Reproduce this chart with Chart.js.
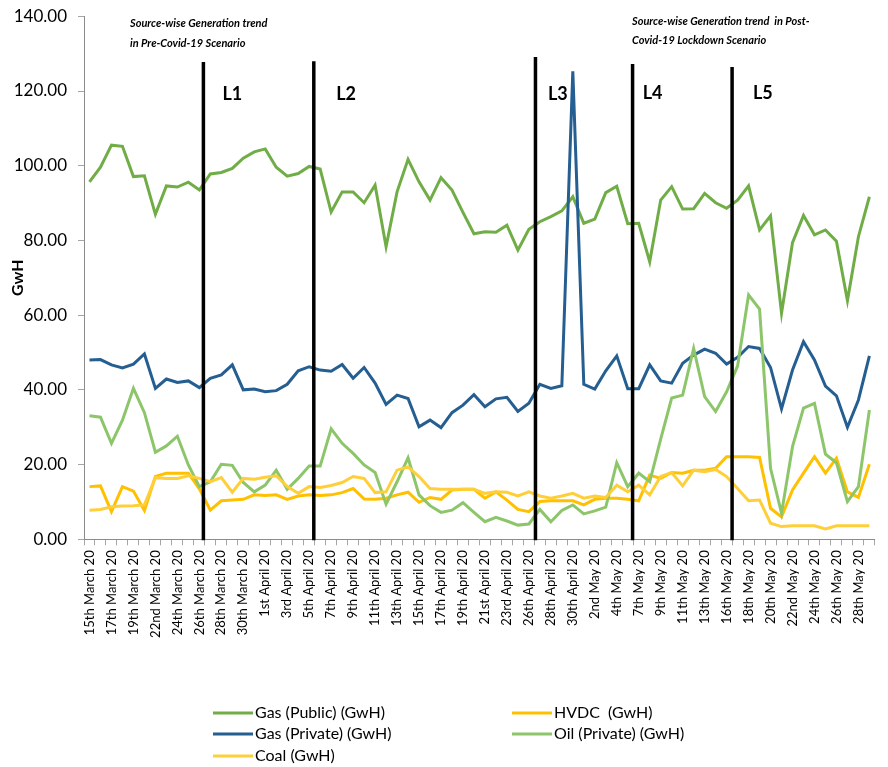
<!DOCTYPE html>
<html>
<head>
<meta charset="utf-8">
<script src="https://cdn.jsdelivr.net/npm/chart.js@4.4.1/dist/chart.umd.min.js"></script>
<style>
  html, body { margin: 0; padding: 0; background: #fff; overflow: hidden; }
  #wrap { width: 890px; height: 767px; }
</style>
</head>
<body>
<div id="wrap"><canvas id="c" width="890" height="767"></canvas></div>
<script>
// Daily dates (a few days have no record)
const dates = [
  '15th March 20','16th March 20','17th March 20','18th March 20','19th March 20','20th March 20',
  '22nd March 20','23rd March 20','24th March 20','25th March 20','26th March 20','27th March 20',
  '28th March 20','29th March 20','30th March 20','31st March 20',
  '1st April 20','2nd April 20','3rd April 20','4th April 20','5th April 20','6th April 20',
  '7th April 20','8th April 20','9th April 20','10th April 20','11th April 20','12th April 20',
  '13th April 20','14th April 20','15th April 20','16th April 20','17th April 20','18th April 20',
  '19th April 20','20th April 20','21st April 20','22nd April 20','23rd April 20','24th April 20',
  '26th April 20','27th April 20','28th April 20','29th April 20','30th April 20',
  '1st May 20','2nd May 20','3rd May 20','4th May 20','5th May 20',
  '7th May 20','8th May 20','9th May 20','10th May 20','11th May 20','12th May 20','13th May 20','14th May 20',
  '16th May 20','17th May 20','18th May 20','19th May 20','20th May 20','21st May 20','22nd May 20',
  '23rd May 20','24th May 20','25th May 20','26th May 20','27th May 20','28th May 20','29th May 20'
];

// Generation by source (GwH)
const gasPublic = [
  95.7, 99.6, 105.5, 105.2, 97.1, 97.3, 87.0, 94.6, 94.3, 95.6,
  93.5, 97.8, 98.2, 99.3, 102.0, 103.7, 104.5, 99.6, 97.2, 97.9,
  99.8, 99.1, 87.6, 93.0, 93.0, 90.1, 94.8, 78.3, 93.0, 101.7,
  95.7, 90.8, 96.8, 93.5, 87.5, 81.8, 82.3, 82.2, 84.1, 77.4,
  83.0, 85.0, 86.4, 87.9, 91.7, 84.6, 85.7, 92.8, 94.5, 84.5,
  84.6, 74.3, 90.8, 94.4, 88.4, 88.5, 92.6, 90.1, 88.6, 90.8,
  94.6, 82.8, 86.6, 60.5, 79.4, 86.7, 81.5, 82.8, 79.8, 63.9,
  81.0, 91.7
];
const hvdc = [
  14.1, 14.3, 7.4, 14.1, 12.9, 7.7, 16.8, 17.7, 17.7, 17.7,
  13.5, 7.8, 10.3, 10.5, 10.7, 11.9, 11.7, 11.9, 10.7, 11.6,
  11.9, 11.7, 11.9, 12.5, 13.6, 10.8, 10.7, 11.0, 11.9, 12.6,
  9.9, 11.2, 10.7, 13.2, 13.4, 13.4, 11.0, 12.7, 10.5, 8.0,
  7.4, 10.1, 10.3, 10.3, 10.3, 9.2, 10.7, 11.0, 11.0, 10.7,
  10.3, 17.2, 16.3, 17.9, 17.7, 18.5, 18.5, 19.0, 22.1, 22.1,
  22.1, 21.9, 8.3, 6.0, 13.2, 17.7, 22.1, 17.7, 21.7, 12.7,
  11.2, 20.1
];
const gasPrivate = [
  48.0, 48.1, 46.7, 45.9, 46.9, 49.6, 40.4, 42.9, 42.0, 42.4,
  40.6, 43.1, 44.0, 46.7, 40.0, 40.2, 39.5, 39.8, 41.5, 45.1,
  46.2, 45.3, 45.0, 46.8, 43.1, 46.0, 41.8, 36.1, 38.6, 37.7,
  30.1, 31.9, 29.9, 33.9, 35.9, 38.7, 35.5, 37.6, 38.0, 34.2,
  36.4, 41.5, 40.4, 41.1, 125.3, 41.5, 40.2, 45.1, 49.1, 40.3,
  40.3, 46.7, 42.4, 41.8, 47.1, 49.3, 50.9, 49.8, 46.9, 48.7,
  51.6, 51.1, 46.0, 34.9, 45.3, 52.9, 48.0, 41.0, 38.4, 30.0,
  37.3, 49.1
];
const oilPrivate = [
  33.1, 32.7, 25.7, 31.9, 40.4, 33.9, 23.3, 25.0, 27.6, 19.9,
  14.1, 15.4, 20.1, 19.8, 15.2, 12.7, 14.5, 18.5, 13.4, 16.3,
  19.6, 19.6, 29.6, 25.7, 23.0, 19.9, 17.9, 9.4, 15.4, 21.8,
  11.9, 9.0, 7.2, 7.8, 9.8, 7.2, 4.7, 5.9, 4.9, 3.8,
  4.1, 8.0, 4.7, 7.7, 9.2, 6.8, 7.6, 8.6, 20.5, 14.1,
  17.7, 15.4, 26.8, 37.8, 38.6, 51.1, 38.2, 34.2, 39.5, 46.4,
  65.4, 61.6, 19.0, 7.0, 24.8, 35.1, 36.4, 22.8, 20.5, 10.1,
  14.1, 34.6
];
const coal = [
  7.8, 8.0, 8.7, 8.9, 9.0, 9.2, 16.5, 16.3, 16.3, 17.0,
  16.3, 15.4, 16.5, 12.6, 16.3, 16.1, 16.6, 17.0, 14.1, 12.3,
  14.1, 13.9, 14.4, 15.2, 16.8, 16.3, 12.5, 12.7, 18.5, 19.4,
  16.8, 13.6, 13.4, 13.4, 13.4, 13.4, 12.3, 12.7, 12.6, 11.6,
  12.7, 11.6, 11.0, 11.6, 12.3, 11.0, 11.6, 11.2, 14.5, 12.7,
  14.5, 11.9, 16.8, 17.9, 14.3, 18.5, 18.1, 18.7, 16.8, 13.6,
  10.3, 10.5, 4.3, 3.4, 3.6, 3.6, 3.6, 2.8, 3.6, 3.6,
  3.6, 3.6
];

const seriesNames = ['Gas (Public) (GwH)', 'HVDC  (GwH)', 'Gas (Private) (GwH)', 'Oil (Private) (GwH)', 'Coal (GwH)'];
const yTicks = [0, 20, 40, 60, 80, 100, 120, 140];

// Lockdown phases
const phaseNames = ['L1', 'L2', 'L3', 'L4', 'L5'];

const FONT = 'Lato, "DejaVu Sans", sans-serif';

// Vertical lockdown boundaries with their labels, placed in scale units
const phaseMarkers = {
  id: 'phaseMarkers',
  afterDatasetsDraw(chart, args, opts) {
    const { ctx } = chart;
    const xs = chart.scales.x, ys = chart.scales.y;
    ctx.save();
    opts.lines.forEach((m, i) => {
      const x = xs.getPixelForValue(m.at);
      ctx.strokeStyle = '#000';
      ctx.lineWidth = 3.5;
      ctx.beginPath();
      ctx.moveTo(x, ys.getPixelForValue(m.top));
      ctx.lineTo(x, ys.getPixelForValue(0) + 1);
      ctx.stroke();
      ctx.fillStyle = '#000';
      ctx.font = 'bold 18px ' + FONT;
      ctx.textAlign = 'left';
      ctx.textBaseline = 'middle';
      ctx.fillText(phaseNames[i], xs.getPixelForValue(m.labelAt), ys.getPixelForValue(m.labelY));
    });
    // scenario notes
    ctx.font = 'italic bold 11px ' + FONT;
    ctx.textBaseline = 'middle';
    opts.notes.forEach(n => {
      n.lines.forEach((t, k) => ctx.fillText(t, n.x, n.y + k * n.step));
    });
    ctx.restore();
  }
};

// Two-column legend below the axis
const gridLegend = {
  id: 'gridLegend',
  afterDraw(chart, args, opts) {
    const { ctx } = chart;
    ctx.save();
    ctx.font = '16px ' + FONT;
    ctx.textBaseline = 'middle';
    ctx.textAlign = 'left';
    chart.data.datasets.forEach((ds, i) => {
      const col = i % 2, row = Math.floor(i / 2);
      const x = opts.cols[col], y = opts.rows[row];
      ctx.strokeStyle = ds.borderColor;
      ctx.lineWidth = 3;
      ctx.beginPath();
      ctx.moveTo(x, y);
      ctx.lineTo(x + opts.lineLen, y);
      ctx.stroke();
      ctx.fillStyle = '#000';
      ctx.fillText(ds.label, x + opts.lineLen + 2, y);
    });
    ctx.restore();
  }
};

const mk = (i, data, color, order) => ({
  label: seriesNames[i], data, borderColor: color, backgroundColor: color,
  borderWidth: 3, pointRadius: 0, tension: 0, fill: false, order
});

new Chart(document.getElementById('c'), {
  type: 'line',
  data: {
    labels: dates,
    datasets: [
      mk(0, gasPublic, '#70AD47', 5),
      mk(1, hvdc, '#FFC000', 4),
      mk(2, gasPrivate, '#255E91', 3),
      mk(3, oilPrivate, '#8DC66A', 2),
      mk(4, coal, '#FFCF3A', 1)
    ]
  },
  options: {
    responsive: false,
    animation: false,
    layout: { padding: { top: 16.3, right: 0, bottom: 0, left: 0 } },
    plugins: {
      legend: { display: false },
      tooltip: { enabled: false },
      phaseMarkers: {
        lines: [
          { at: 10.37, top: 127.8, labelAt: 12.1, labelY: 119.2 },
          { at: 20.42, top: 128.0, labelAt: 22.46, labelY: 119.2 },
          { at: 40.6, top: 129.1, labelAt: 41.73, labelY: 119.2 },
          { at: 49.44, top: 127.2, labelAt: 50.36, labelY: 119.4 },
          { at: 58.5, top: 126.4, labelAt: 60.4, labelY: 119.5 }
        ],
        notes: [
          { x: 130, y: 23, step: 20, lines: ['Source-wise Generation trend', 'in Pre-Covid-19 Scenario'] },
          { x: 632, y: 21, step: 19, lines: ['Source-wise Generation trend  in Post-', 'Covid-19 Lockdown Scenario'] }
        ]
      },
      gridLegend: { cols: [213, 512], rows: [713, 734, 756], lineLen: 40 }
    },
    scales: {
      x: {
        type: 'category',
        offset: true,
        grid: { offset: true, drawOnChartArea: false, drawTicks: true, tickLength: 6, color: '#a6a6a6' },
        border: { color: '#8c8c8c', width: 1 },
        ticks: {
          autoSkip: false, minRotation: 90, maxRotation: 90, padding: 5,
          color: '#000', font: { family: FONT, size: 13 },
          callback: (v, i) => (i % 2 === 0 ? dates[i] : '')
        },
        afterFit: s => { s.height = 227.7; }
      },
      y: {
        min: 0, max: 140,
        afterBuildTicks: s => { s.ticks = yTicks.map(v => ({ value: v })); },
        grid: { drawOnChartArea: false, drawTicks: true, tickLength: 6, color: '#a6a6a6' },
        border: { color: '#8c8c8c', width: 1 },
        ticks: { padding: 11, color: '#000', font: { family: FONT, size: 17 }, callback: v => v.toFixed(2) },
        title: { display: true, text: 'GwH', color: '#000', font: { family: FONT, size: 16, weight: 'bold' }, padding: { top: 8, bottom: 0 } },
        afterFit: s => { s.width = 84; s.paddingTop = 0; s.paddingBottom = 0; }
      }
    }
  },
  plugins: [phaseMarkers, gridLegend]
});
</script>
</body>
</html>
